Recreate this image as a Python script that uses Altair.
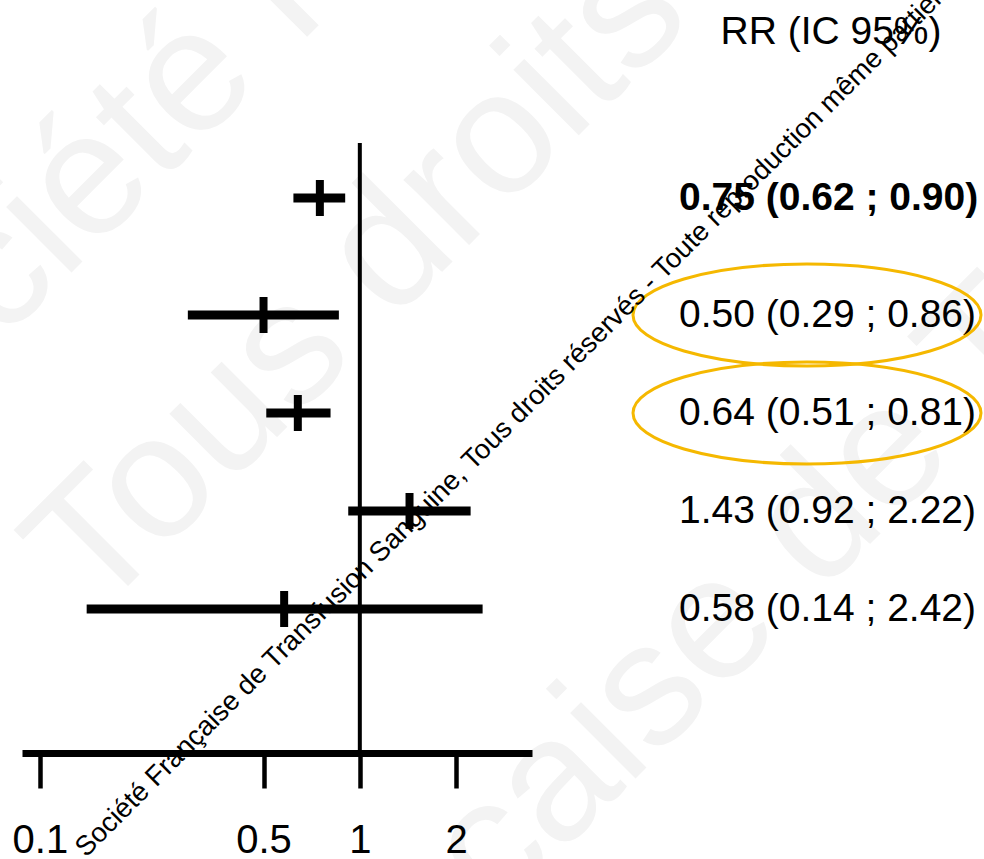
import altair as alt
import pandas as pd

# ---------------- data ----------------
labels = ["0.75 (0.62 ; 0.90)", "0.50 (0.29 ; 0.86)", "0.64 (0.51 ; 0.81)",
          "1.43 (0.92 ; 2.22)", "0.58 (0.14 ; 2.42)"]
rr = [0.75, 0.50, 0.64, 1.43, 0.58]
ci_low = [0.62, 0.29, 0.51, 0.92, 0.14]
ci_high = [0.90, 0.86, 0.81, 2.22, 2.42]
is_bold = [True, False, False, False, False]
is_circled = [False, True, True, False, False]
x_ticks = [0.1, 0.5, 1, 2]
ref_value = [1]
header = "RR (IC 95%)"
watermark = ("Société Française de Transfusion Sanguine, Tous droits réservés - "
             "Toute reproduction même partielle")
big_wm = ["Société Française de Transfusion",
          "Tous droits réservés",
          "Société Française de Transfusion"]

df = pd.DataFrame({
    "row": list(range(len(labels))),
    "rr": rr, "lo": ci_low, "hi": ci_high, "label": labels,
    "bold": is_bold, "circled": is_circled,
})
ref_df = pd.DataFrame({"v": ref_value})
one = pd.DataFrame({"t": [header]})

FONT = "Liberation Sans"
xscale = alt.Scale(type="log", domain=[0.0879, 3.453], range=[22, 532], nice=False)
yscale = alt.Scale(domain=[0, 1, 4], range=[198, 315, 609], nice=False, zero=False)
xaxis = alt.Axis(values=x_ticks, format="~g", title=None, grid=False,
                 domainColor="black", domainWidth=7, domainCap="butt",
                 tickColor="black", tickWidth=4.5, tickSize=35,
                 labelFontSize=40, labelFont=FONT, labelColor="black",
                 labelPadding=32, labelFlush=False, labelOverlap=False,
                 zindex=1)

base = alt.Chart(df)

# big faint watermark
wm_pos = [(-150, 494), (96, 618), (-205, 1619)]
wm_layers = []
for txt, (px, py) in zip(big_wm, wm_pos):
    wm_layers.append(
        alt.Chart(pd.DataFrame({"t": [txt]})).mark_text(
            font=FONT, fontSize=175, color="#f3f3f3", angle=315,
            align="left", baseline="alphabetic"
        ).encode(x=alt.value(px), y=alt.value(py), text="t:N")
    )

ref_rule = alt.Chart(ref_df).mark_rule(color="black", strokeWidth=4).encode(
    x=alt.X("v:Q", scale=xscale, axis=xaxis),
    y=alt.value(143), y2=alt.value(753),
)

ci = base.mark_rule(color="black", strokeWidth=9, strokeCap="butt").encode(
    x=alt.X("lo:Q", scale=xscale, axis=xaxis),
    x2="hi:Q",
    y=alt.Y("row:Q", scale=yscale, axis=None),
)

cross = base.mark_tick(orient="vertical", color="black", size=36, thickness=8,
                       opacity=1).encode(
    x=alt.X("rr:Q", scale=xscale, axis=xaxis),
    y=alt.Y("row:Q", scale=yscale, axis=None),
)

txt_bold = base.transform_filter("datum.bold").mark_text(
    font=FONT, fontSize=39, fontWeight="bold", color="black",
    align="left", baseline="middle"
).encode(x=alt.value(679), y=alt.Y("row:Q", scale=yscale, axis=None), text="label:N")

txt_norm = base.transform_filter("!datum.bold").mark_text(
    font=FONT, fontSize=39, color="black", align="left", baseline="middle"
).encode(x=alt.value(679), y=alt.Y("row:Q", scale=yscale, axis=None), text="label:N")

head = alt.Chart(one).mark_text(
    font=FONT, fontSize=39, color="black", align="center", baseline="middle"
).encode(x=alt.value(831), y=alt.value(32), text="t:N")

ellipse_path = "M -1 0 A 1 0.293 0 1 0 1 0 A 1 0.293 0 1 0 -1 0 Z"
ellipses = base.transform_filter("datum.circled").mark_point(
    shape=ellipse_path, size=348 * 348, filled=False, strokeWidth=3,
    color="#F5B800", opacity=1
).encode(x=alt.value(807), y=alt.Y("row:Q", scale=yscale, axis=None))

small_wm = alt.Chart(pd.DataFrame({"t": [watermark]})).mark_text(
    font=FONT, fontSize=27.5, color="black", angle=315,
    align="left", baseline="alphabetic"
).encode(x=alt.value(86), y=alt.value(858), text="t:N")

chart = alt.layer(
    *wm_layers, ref_rule, ci, cross, txt_bold, txt_norm, head, ellipses, small_wm
).properties(
    width=984, height=753,
    padding={"left": 0, "right": 0, "top": 0, "bottom": 106},
    autosize=alt.AutoSizeParams(type="none"),
    background="white",
).configure_view(stroke=None)

chart.save("out.html", embed_options={"renderer": "svg", "actions": False})
